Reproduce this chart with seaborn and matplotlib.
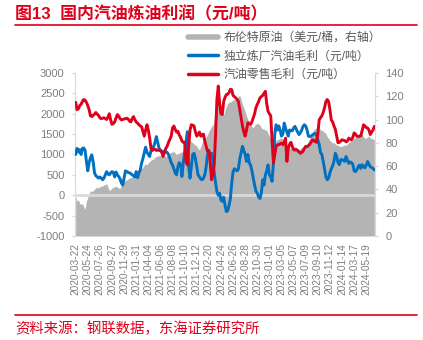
import numpy as np
import pandas as pd
import matplotlib
matplotlib.use('Agg')
import matplotlib.pyplot as plt
import seaborn as sns
from matplotlib.lines import Line2D

tick_labels = ['2020-03-22', '2020-05-24', '2020-07-26', '2020-09-27', '2020-11-29',
               '2021-01-31', '2021-04-04', '2021-06-06', '2021-08-08', '2021-10-10',
               '2021-12-12', '2022-02-20', '2022-04-24', '2022-06-26', '2022-08-28',
               '2022-10-30', '2023-01-01', '2023-03-05', '2023-05-07', '2023-07-09',
               '2023-09-10', '2023-11-12', '2024-01-14', '2024-03-17', '2024-05-19']

# Brent crude (USD/bbl, right axis), weekly
brent = [34, 30, 31, 28, 27, 28, 25, 23, 30,
         33, 36, 39, 38, 39, 40, 42, 41, 42,
         42, 43, 43, 44, 44, 45, 42, 39, 40,
         41, 42, 42, 43, 42, 41, 41, 44, 45,
         47, 48, 48, 49, 50, 50, 51, 52, 52,
         53, 55, 56, 57, 58, 59, 61, 62, 61,
         63, 64, 65, 66, 66, 68, 68, 69, 69,
         69, 68, 68, 69, 68, 70, 71, 71, 72,
         72, 73, 71, 70, 71, 71, 72, 72, 74,
         75, 77, 79, 81, 82, 81, 80, 79, 78,
         77, 75, 74, 77, 80, 82, 84, 85, 87,
         90, 92, 94, 95, 100, 112, 122, 124, 115,
         108, 105, 104, 108, 111, 114, 115, 115, 116,
         117, 117, 118, 119, 120, 121, 117, 113, 110,
         107, 103, 100, 98, 96, 94, 93, 95, 96,
         97, 96, 95, 93, 92, 92, 91, 91, 88,
         86, 83, 82, 81, 81, 82, 83, 83, 84,
         84, 83, 81, 80, 78, 77, 76, 75, 75,
         76, 77, 76, 75, 74, 75, 76, 76, 77,
         77, 79, 81, 84, 87, 89, 91, 92, 93,
         94, 93, 91, 91, 90, 89, 88, 85, 84,
         82, 81, 80, 80, 79, 78, 78, 77, 77,
         77, 78, 78, 78, 79, 80, 81, 82, 83,
         84, 85, 86, 87, 88, 88, 87, 85, 84,
         84, 85, 86, 84, 84, 83, 83]

# Independent refinery gasoline margin (CNY/t)
indep = [1000, 1150, 1060, 1120, 1000, 1150, 1160, 1100, 830,
         600, 800, 920, 990, 820, 550, 480, 450, 420,
         450, 420, 380, 420, 500, 580, 520, 500, 550,
         580, 560, 450, 570, 500, 460, 400, 300, 250,
         420, 600, 580, 560, 550, 530, 500, 480, 450,
         580, 430, 550, 620, 790, 900, 1050, 1180, 1050,
         1000, 950, 1100, 1150, 1200, 1300, 1440, 1300, 1150,
         1100, 1080, 1070, 1060, 1070, 1050, 1000, 910, 800,
         740, 650, 550, 500, 700, 800, 750, 460, 800,
         1050, 1300, 1560, 700, 420, 700, 1000, 1030, 900,
         700, 500, 450, 400, 380, 420, 500, 700, 1000,
         1070, 950, 1030, 850, 550, 300, 90, 0, 50,
         -120, -150, -50, -240, -400, -380, -250, -80, 300,
         580, 650, 620, 600, 650, 900, 1050, 1200, 1100,
         1000, 830, 1000, 800, 740, 600, 420, 250, 100,
         50, -40, -80, 50, 380, 250, 500, 600, 745,
         500, 450, 340, 800, 1500, 1730, 1600, 1700, 1600,
         1450, 1500, 1770, 1650, 1550, 1450, 1600, 1590, 1580,
         1650, 1690, 1620, 1550, 1490, 1530, 1600, 1690, 1730,
         1700, 1600, 1450, 1440, 1450, 1480, 1500, 1520, 1480,
         1350, 1250, 1050, 1000, 830, 650, 450, 380, 420,
         550, 650, 720, 830, 1030, 950, 800, 750, 870,
         880, 850, 830, 950, 860, 780, 820, 800, 760,
         600, 580, 620, 700, 740, 660, 750, 700, 670,
         740, 830, 760, 700, 680, 660, 620]

# Gasoline retail margin (CNY/t)
retail = [2280, 2100, 2120, 2200, 2230, 2300, 2350, 2330, 2280,
          2200, 2100, 1950, 1930, 1960, 1990, 2030, 1990, 1960,
          1900, 1880, 1890, 1900, 1880, 1860, 1920, 2000, 1850,
          1740, 1760, 1800, 1900, 1980, 1940, 1880, 1850, 1860,
          1870, 1880, 1890, 1870, 1820, 1800, 1880, 1930, 1850,
          1800, 1770, 1730, 1700, 1680, 1560, 1450, 1600, 1730,
          1600, 1400, 1150, 1100, 1120, 1130, 1100, 1110, 1100,
          1110, 1050, 950, 1050, 1150, 1200, 1300, 1370, 1450,
          1650, 1700, 1620, 1550, 1570, 1480, 1420, 1330, 1300,
          1300, 830, 750, 1200, 1600, 1730, 1720, 1700, 1550,
          1450, 1500, 1550, 1450, 1480, 1500, 1320, 1200, 1080,
          1100, 800, 380, 500, 760, 1500, 2350, 2680, 2250,
          2000, 1980, 2300, 2400, 2470, 2480, 2520, 2600, 2590,
          2450, 2420, 2390, 2350, 2300, 2100, 1900, 1700, 1550,
          1450, 1600, 1780, 1760, 1740, 1800, 1900, 2000, 2150,
          2230, 2300, 2390, 2420, 2450, 2500, 2550, 2250, 2060,
          2000, 1950, 1330, 790, 1000, 1200, 1240, 1240, 1260,
          1280, 1240, 1300, 1400, 830, 1150, 1250, 1300, 1200,
          1120, 1110, 1120, 1100, 1060, 1030, 1050, 1080, 1150,
          1200, 1190, 1220, 1250, 1300, 1360, 1350, 1320, 1300,
          1500, 1850, 1900, 1950, 2030, 2150, 2300, 2350, 2300,
          2100, 1850, 1800, 1700, 1620, 1450, 1290, 1300, 1330,
          1360, 1350, 1340, 1310, 1330, 1400, 1380, 1360, 1420,
          1530, 1500, 1450, 1440, 1450, 1460, 1600, 1730, 1700,
          1660, 1650, 1600, 1490, 1550, 1600, 1690]

legend_labels = ['布伦特原油（美元/桶，右轴）', '独立炼厂汽油毛利（元/吨）', '汽油零售毛利（元/吨）']
title = '图13  国内汽油炼油利润（元/吨）'
source = '资料来源：钢联数据，东海证券研究所'

RED = '#E0001B'
BLUE = '#0070C0'
GRAY_AREA = '#B4B4B4'
AXIS = '#D9D9D9'
TXT = '#7F7F7F'

sns.set_style('white')
plt.rcParams['font.family'] = ['Liberation Sans', 'Noto Sans CJK SC', 'DejaVu Sans']
plt.rcParams['axes.unicode_minus'] = False

n = len(brent)
df = pd.DataFrame({'x': np.arange(n), 'brent': brent, 'indep': indep, 'retail': retail})

fig = plt.figure(figsize=(4.23, 3.4), dpi=100)
ax = fig.add_axes([75 / 423, 1 - 236 / 340, 300 / 423, 163 / 340])
ax2 = ax.twinx()

ax2.fill_between(df['x'], df['brent'], 0, color=GRAY_AREA, lw=0)
ax2.set_ylim(0, 140)
ax2.set_yticks(range(0, 141, 20))

ax.set_zorder(ax2.get_zorder() + 1)
ax.patch.set_visible(False)
ax.axhline(0, color=AXIS, lw=2, zorder=1)
sns.lineplot(data=df, x='x', y='indep', color=BLUE, lw=2.1, ax=ax, zorder=3)
sns.lineplot(data=df, x='x', y='retail', color=RED, lw=2.1, ax=ax, zorder=4)

ax.set_ylim(-1000, 3000)
ax.set_yticks(range(-1000, 3001, 500))
ax.set_xlim(-0.5, n - 0.5)
ax.set_xticks(np.arange(len(tick_labels)) * 9)
ax.set_xticklabels(tick_labels)
ax.set_xlabel('')
ax.set_ylabel('')

for a in (ax, ax2):
    for s in a.spines.values():
        s.set_visible(False)
ax.spines['left'].set_visible(True)
ax.spines['left'].set_color(AXIS)
ax2.spines['right'].set_visible(True)
ax2.spines['right'].set_color(AXIS)

ax.tick_params(axis='y', length=2.5, width=1, color=AXIS, labelcolor=TXT, labelsize=8, pad=5, left=True)
ax2.tick_params(axis='y', length=2.5, width=1, color=AXIS, labelcolor=TXT, labelsize=8, pad=5, right=True)
ax.tick_params(axis='x', length=0, labelcolor=TXT, labelsize=7.3, labelrotation=90, pad=5)

fig.text(15 / 423, 1 - 14 / 340, title, color=RED, fontsize=12.2, fontweight='bold', va='center', ha='left')
fig.add_artist(Line2D([15 / 423, 417 / 423], [1 - 25 / 340] * 2, color=RED, lw=1.2))
fig.add_artist(Line2D([15 / 423, 417 / 423], [1 - 315 / 340] * 2, color=RED, lw=1.2))
fig.text(15 / 423, 1 - 329 / 340, source, color=RED, fontsize=10.4, va='center', ha='left')

handles = [Line2D([0], [0], color=GRAY_AREA, lw=4),
           Line2D([0], [0], color=BLUE, lw=2.5),
           Line2D([0], [0], color=RED, lw=2.5)]
leg = fig.legend(handles, legend_labels, loc='upper left', bbox_to_anchor=(188 / 423, 1 - 32 / 340),
                 frameon=False, fontsize=8.6, handlelength=2.5, handletextpad=0.45,
                 labelspacing=0.55, borderpad=0, borderaxespad=0)
for t in leg.get_texts():
    t.set_color('#595959')

fig.savefig('out.png', dpi=100)
